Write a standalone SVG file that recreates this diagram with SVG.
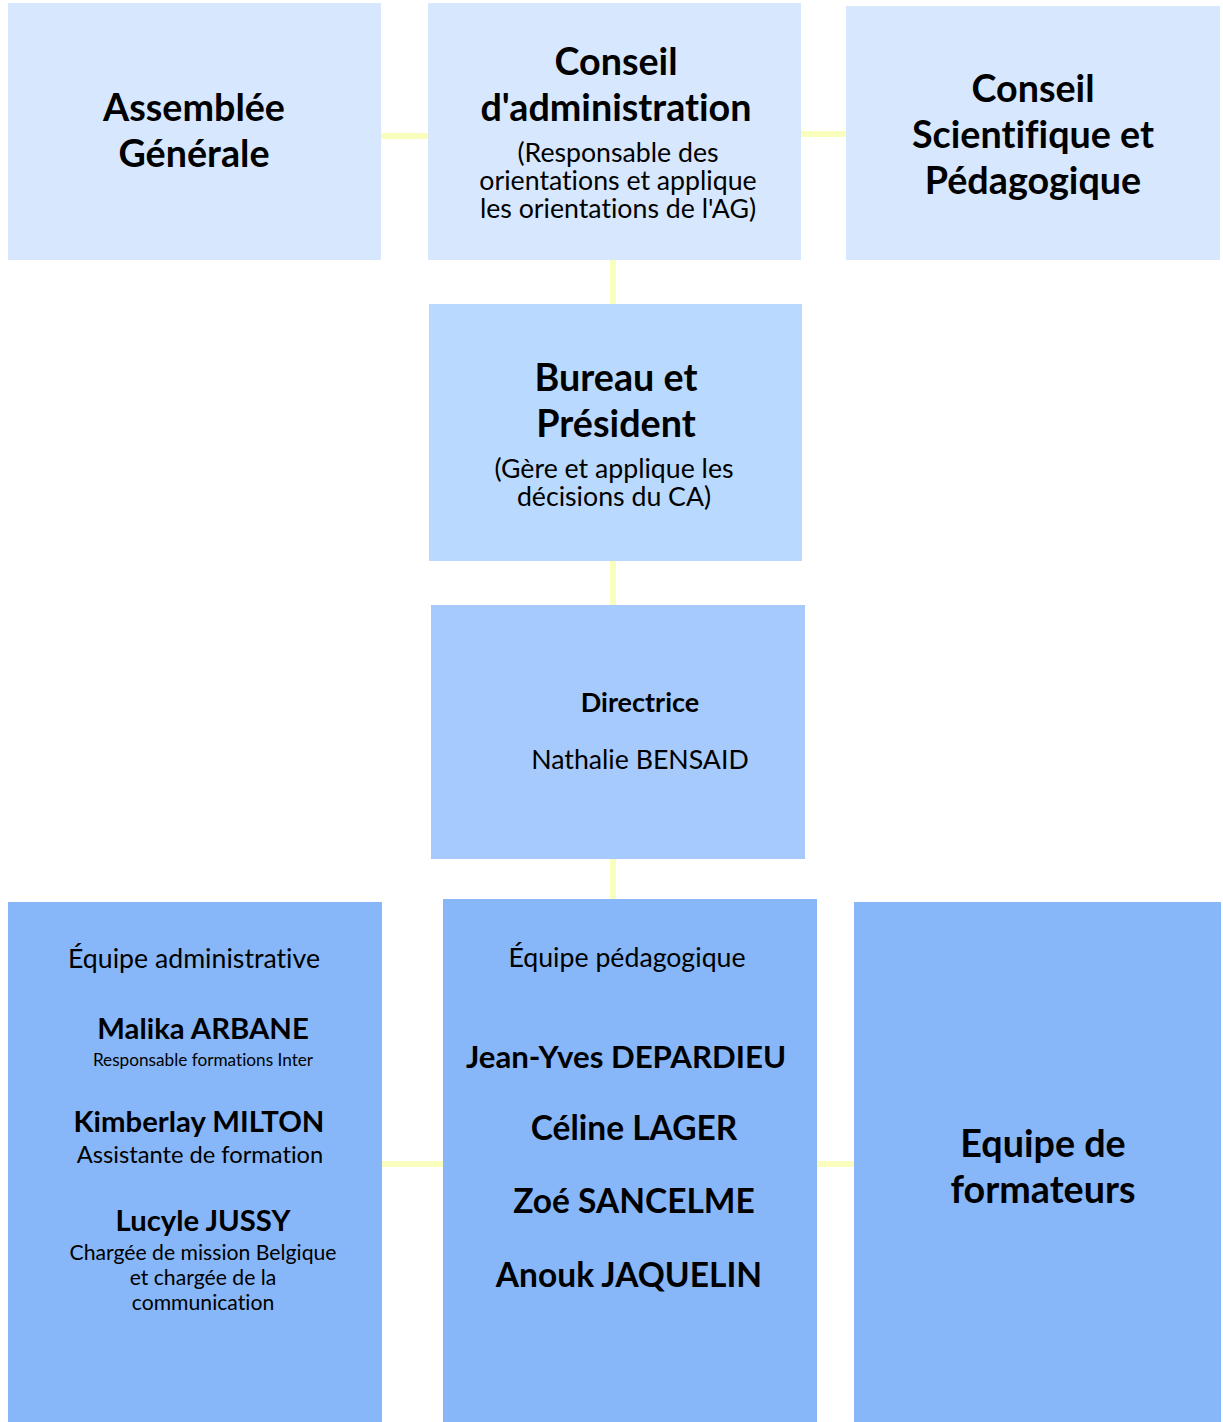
<svg xmlns="http://www.w3.org/2000/svg" width="1223" height="1422" viewBox="0 0 1223 1422">
<style>
text{font-family:Lato,"Open Sans","Liberation Sans",sans-serif;fill:#000;text-anchor:middle;font-variant-ligatures:none}
.t{font-weight:bold;font-size:37.7px}
.s{font-size:26.7px}
.n{font-weight:bold;font-size:29.3px}
.p{font-weight:bold;font-size:33.5px}
.c1{fill:#D6E7FE}.c2{fill:#BAD9FE}.c3{fill:#A7CAFD}.c4{fill:#87B7F9}
.ln{stroke:#F9FEBC;stroke-width:6;fill:none}
</style>
<rect width="1223" height="1422" fill="#fff"/>
<g id="connectors">
<line class="ln" x1="381" y1="136" x2="428" y2="136"/>
<line class="ln" x1="801" y1="134" x2="846" y2="134"/>
<line class="ln" x1="613" y1="260" x2="613" y2="304"/>
<line class="ln" x1="613" y1="561" x2="613" y2="605"/>
<line class="ln" x1="613" y1="859" x2="613" y2="899"/>
<line class="ln" x1="382" y1="1164" x2="443" y2="1164"/>
<line class="ln" x1="817" y1="1164" x2="854" y2="1164"/>
</g>
<g id="ag">
<rect class="c1" x="8" y="3" width="373" height="257"/>
<text class="t" x="194" y="121">Assemblée</text>
<text class="t" x="194" y="167">Générale</text>
</g>
<g id="ca">
<rect class="c1" x="428" y="3" width="373" height="257"/>
<text class="t" x="616" y="75">Conseil</text>
<text class="t" x="616" y="121">d'administration</text>
<text class="s" x="618" y="162">(Responsable des</text>
<text class="s" x="618" y="190">orientations et applique</text>
<text class="s" x="618" y="218">les orientations de l'AG)</text>
</g>
<g id="csp">
<rect class="c1" x="846" y="6" width="374" height="254"/>
<text class="t" x="1033" y="102">Conseil</text>
<text class="t" x="1033" y="148">Scientifique et</text>
<text class="t" x="1033" y="194">Pédagogique</text>
</g>
<g id="bureau">
<rect class="c2" x="429" y="304" width="373" height="257"/>
<text class="t" x="616" y="391">Bureau et</text>
<text class="t" x="616" y="437">Président</text>
<text class="s" x="614" y="478">(Gère et applique les</text>
<text class="s" x="614" y="506">décisions du CA)</text>
</g>
<g id="directrice">
<rect class="c3" x="431" y="605" width="374" height="254"/>
<text x="640" y="712" font-weight="bold" font-size="27">Directrice</text>
<text class="s" x="640" y="769">Nathalie BENSAID</text>
</g>
<g id="admin">
<rect class="c4" x="8" y="902" width="374" height="520"/>
<text class="s" x="194" y="968">Équipe administrative</text>
<text class="n" x="203" y="1039">Malika ARBANE</text>
<text x="203" y="1066" font-size="17.2">Responsable formations Inter</text>
<text class="n" x="199" y="1132" font-size="30">Kimberlay MILTON</text>
<text x="200" y="1163" font-size="23.7">Assistante de formation</text>
<text class="n" x="203" y="1231">Lucyle JUSSY</text>
<text x="203" y="1260" font-size="21.2">Chargée de mission Belgique</text>
<text x="203" y="1285" font-size="21.2">et chargée de la</text>
<text x="203" y="1310" font-size="21.2">communication</text>
</g>
<g id="peda">
<rect class="c4" x="443" y="899" width="374" height="523"/>
<text class="s" x="627" y="967">Équipe pédagogique</text>
<text x="626" y="1068" font-weight="bold" font-size="31.2">Jean-Yves DEPARDIEU</text>
<text class="p" x="634" y="1140">Céline LAGER</text>
<text class="p" x="634" y="1213">Zoé SANCELME</text>
<text class="p" x="629" y="1287">Anouk JAQUELIN</text>
</g>
<g id="formateurs">
<rect class="c4" x="854" y="902" width="367" height="520"/>
<text class="t" x="1043" y="1157">Equipe de</text>
<text class="t" x="1043" y="1203">formateurs</text>
</g>
</svg>
